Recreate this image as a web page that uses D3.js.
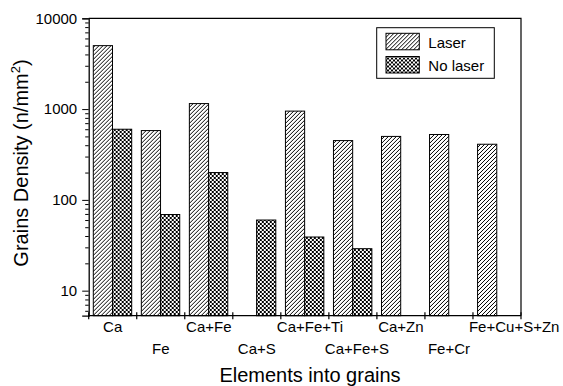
<!DOCTYPE html>
<html>
<head>
<meta charset="utf-8">
<script src="https://cdn.jsdelivr.net/npm/d3@7"></script>
<style>
body { margin: 0; background: #fff; }
text { font-family: "Liberation Sans", Arial, sans-serif; fill: #000; }
</style>
</head>
<body>
<svg id="chart" width="563" height="386"></svg>
<script>
"use strict"

var categories = ["Ca", "Fe", "Ca+Fe", "Ca+S", "Ca+Fe+Ti", "Ca+Fe+S", "Ca+Zn", "Fe+Cr", "Fe+Cu+S+Zn"];
var series     = ["Laser", "No laser"];
var laser      = [5000, 580, 1150, null, 950, 450, 500, 525, 410];
var nolaser    = [600, 69, 200, 60, 39, 29, null, null, null];
var yTicks     = [10, 100, 1000, 10000];
var yDomain    = [5.3, 10000];

var W = 563, H = 386;
var plotL = 88.7, plotR = 521, plotT = 18.3, plotB = 315.7;

var svg = d3.select("#chart");

// patterns
var defs = svg.append("defs");
defs.append("pattern")
    .attr("id", "hatch")
    .attr("patternUnits", "userSpaceOnUse")
    .attr("width", 4).attr("height", 4)
    .append("path")
    .attr("d", "M0,4 L4,0 M-1,1 L1,-1 M3,5 L5,3")
    .attr("shape-rendering", "crispEdges")
    .attr("stroke", "#000").attr("stroke-width", 1);
var cross = defs.append("pattern")
    .attr("id", "cross")
    .attr("patternUnits", "userSpaceOnUse")
    .attr("width", 4).attr("height", 4);
cross.append("rect").attr("width", 4).attr("height", 4).attr("fill", "#fff");
cross.append("path")
    .attr("d", "M0,4 L4,0 M-1,1 L1,-1 M3,5 L5,3 M0,0 L4,4 M-1,3 L1,5 M3,-1 L5,1")
    .attr("shape-rendering", "crispEdges")
    .attr("stroke", "#000").attr("stroke-width", 1);

var fills = {"Laser": "url(#hatch)", "No laser": "url(#cross)"};

var x = d3.scaleBand().domain(categories).range([plotL, plotR]);
var xs = d3.scaleBand().domain(series).range([4.6, 43]);
var y = d3.scaleLog().domain(yDomain).range([plotB, plotT]);

var rows = categories.map(function(c, i) {
	return {cat: c, vals: [{s: "Laser", v: laser[i]}, {s: "No laser", v: nolaser[i]}]};
});

// bars
svg.append("g").selectAll("g")
   .data(rows)
   .enter()
   .append("g")
   .attr("transform", function(d){ return "translate(" + x(d.cat) + ",0)"; })
   .selectAll("rect")
   .data(function(d){ return d.vals.filter(function(e){ return e.v != null; }); })
   .enter()
   .append("rect")
   .attr("x", function(d){ return xs(d.s); })
   .attr("width", xs.bandwidth())
   .attr("y", function(d){ return y(d.v); })
   .attr("height", function(d){ return plotB - y(d.v); })
   .attr("fill", function(d){ return fills[d.s]; })
   .attr("stroke", "#000")
   .attr("stroke-width", 1);

// y axis, major
var yAxis = svg.append("g")
   .attr("transform", "translate(" + plotL + ",0)")
   .call(d3.axisLeft(y).tickValues(yTicks).tickFormat(d3.format("d")).tickSize(6.5).tickPadding(5));
yAxis.selectAll("text").style("font-size", "15px").style("font-family", '"Liberation Sans", Arial, sans-serif');

// y axis, minor
var minor = [];
y.ticks().forEach(function(t){ if (yTicks.indexOf(t) < 0) minor.push(t); });
svg.append("g")
   .attr("transform", "translate(" + plotL + ",0)")
   .call(d3.axisLeft(y).tickValues(minor).tickFormat("").tickSize(3.5).tickSizeOuter(0))
   .select(".domain").remove();

// x axis
svg.append("line")
   .attr("x1", plotL).attr("x2", plotR).attr("y1", plotB).attr("y2", plotB)
   .attr("stroke", "#000").attr("stroke-width", 1.3);
var bounds = categories.map(function(c){ return x(c); }).concat([plotR]);
svg.append("g").selectAll("line")
   .data(bounds)
   .enter()
   .append("line")
   .attr("x1", function(d){ return d; }).attr("x2", function(d){ return d; })
   .attr("y1", plotB - 3.5).attr("y2", plotB + 3.5)
   .attr("stroke", "#000").attr("stroke-width", 1.2);

// frame top/right
svg.append("path")
   .attr("d", "M" + plotL + "," + plotT + "H" + plotR + "V" + plotB)
   .attr("fill", "none").attr("stroke", "#000").attr("stroke-width", 1.2);
yAxis.select(".domain").attr("stroke-width", 1.3);

// category labels, staggered; wide ones start near the band's left edge
svg.append("g").selectAll("text")
   .data(categories)
   .enter()
   .append("text")
   .attr("y", function(d, i){ return i % 2 === 0 ? 332 : 354; })
   .style("font-size", "15px")
   .text(function(d){ return d; })
   .each(function(d){
	   var w = this.getComputedTextLength();
	   var sel = d3.select(this);
	   if (w > x.bandwidth()) {
		   sel.attr("text-anchor", "start").attr("x", x(d) - 4);
	   } else {
		   sel.attr("text-anchor", "middle").attr("x", x(d) + x.bandwidth() / 2);
	   }
   });

// axis titles
svg.append("text")
   .attr("x", 310).attr("y", 382)
   .attr("text-anchor", "middle")
   .style("font-size", "20px")
   .text("Elements into grains");

var yt = svg.append("text")
   .attr("transform", "translate(28,163) rotate(-90)")
   .attr("text-anchor", "middle")
   .style("font-size", "20px");
yt.append("tspan").text("Grains Density (n/mm");
yt.append("tspan").attr("dy", -8).style("font-size", "13px").text("2");
yt.append("tspan").attr("dy", 8).text(")");

// legend
var lg = svg.append("g");
lg.append("rect")
  .attr("x", 376.7).attr("y", 27.7).attr("width", 117.6).attr("height", 50.6)
  .attr("fill", "#fff").attr("stroke", "#000").attr("stroke-width", 1);
var li = lg.selectAll("g.item")
  .data(series)
  .enter()
  .append("g")
  .attr("transform", function(d, i){ return "translate(386," + (33.3 + i * 23.2) + ")"; });
li.append("rect")
  .attr("width", 33.3).attr("height", 16.5)
  .attr("fill", function(d){ return fills[d]; })
  .attr("stroke", "#000").attr("stroke-width", 1);
li.append("text")
  .attr("x", 42.3).attr("y", 14.5)
  .style("font-size", "15px")
  .text(function(d){ return d; });
</script>
</body>
</html>
